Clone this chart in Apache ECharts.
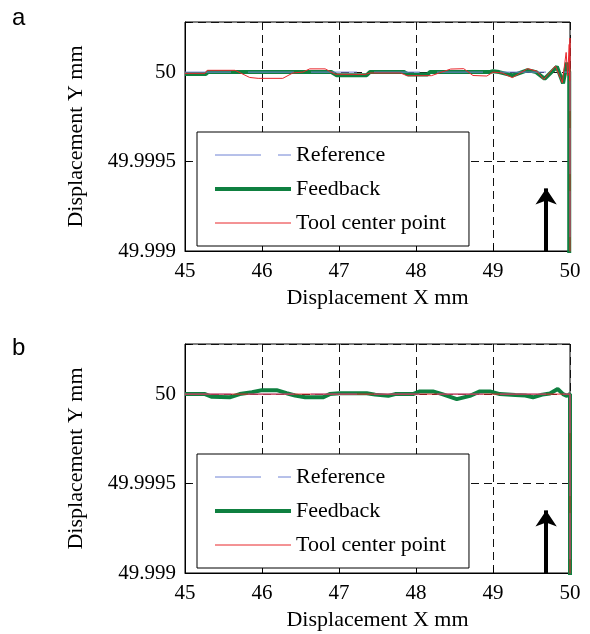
<!DOCTYPE html>
<html>
<head>
    <meta charset="utf-8">
    <title>Displacement</title>
    <script src="https://cdn.jsdelivr.net/npm/echarts@6/dist/echarts.min.js"></script>
    <style>
        html, body { margin: 0; padding: 0; background: #fff; }
        #chart { width: 590px; height: 634px; }
    </style>
</head>
<body>
<div id="chart"></div>
<script type="text/javascript">

    /* tick labels */
    var xTicks = [45, 46, 47, 48, 49, 50];
    var yTicks = ['49.999', '49.9995', '50'];
    var names = ['Reference', 'Feedback', 'Tool center point'];

    /* panel a  [X mm, Y mm] */
    var refA = [[45, 50], [50, 50], [50, 49.998]];
    var feedA = [
        [45.00, 49.999989], [45.27, 49.999989], [45.30, 50.0], [46.90, 50.0],
        [46.97, 49.999983], [47.36, 49.999983], [47.40, 50.0], [47.85, 50.0],
        [47.90, 49.999987], [48.15, 49.999987], [48.18, 50.0], [48.95, 50.0],
        [49.00, 50.000005], [49.08, 50.0], [49.26, 49.999981], [49.45, 50.000011],
        [49.56, 50.0], [49.67, 49.999963], [49.83, 50.00003], [49.91, 49.999937],
        [49.96, 50.000053], [49.99, 50.0], [49.99, 49.998]
    ];
    var tcpA = [
        [45.00, 49.999993], [45.26, 49.999993], [45.29, 50.00001], [45.65, 50.00001],
        [45.84, 49.99997], [45.95, 49.999965], [46.27, 49.999965], [46.40, 49.999995],
        [46.53, 50.0], [46.62, 50.000018], [46.82, 50.000018], [46.95, 49.999988],
        [47.34, 49.999987], [47.40, 49.999995], [47.80, 49.999995], [47.88, 49.99998],
        [48.20, 49.99998], [48.30, 49.999995], [48.45, 50.000017], [48.62, 50.000019],
        [48.74, 49.999981], [48.92, 49.999978], [49.00, 50.0], [49.12, 49.999995],
        [49.25, 49.999969], [49.45, 50.000019], [49.57, 50.000005], [49.66, 49.999959],
        [49.81, 50.000034], [49.90, 49.99994], [49.95, 50.00011], [49.97, 49.99998],
        [49.99, 50.000155], [49.995, 49.99995], [50.00, 50.00019], [50.00, 49.998]
    ];

    /* panel b */
    var refB = [[45, 50], [50, 50], [50, 49.998]];
    var feedB = [
        [45.00, 50.0], [45.26, 50.0], [45.35, 49.999985], [45.58, 49.999982],
        [45.71, 50.0], [45.87, 50.00001], [46.00, 50.000022], [46.19, 50.000022],
        [46.32, 50.000005], [46.43, 49.999992], [46.56, 49.999982], [46.79, 49.999982],
        [46.88, 50.0], [47.01, 50.000005], [47.36, 50.000005], [47.47, 49.999997],
        [47.64, 49.99999], [47.73, 50.0], [47.96, 50.0], [48.05, 50.000015],
        [48.22, 50.000015], [48.34, 50.0], [48.53, 49.999972], [48.70, 49.99999],
        [48.83, 50.000015], [48.96, 50.000015], [49.09, 50.0], [49.29, 49.999995],
        [49.42, 49.999992], [49.52, 49.999982], [49.64, 49.999997], [49.74, 50.000003],
        [49.84, 50.000028], [49.91, 50.0], [49.96, 49.99999], [50.00, 50.0], [50.00, 49.998]
    ];
    var tcpB = [[45, 50], [50, 50], [50, 49.998]];

    /* arrow: start / tip */
    var arrowPts = [[49.69, 49.999], [49.69, 49.99935]];

    var serif = "'Liberation Serif', 'Times New Roman', serif";
    var gridTops = [22, 344];

    var colors = {ref: '#6f82d4', feed: '#0f8040', tcp: '#e8262b'};

    function xAxisOf(i) {
        return {
            type: 'value', gridIndex: i, min: 45, max: 50, interval: 1,
            name: 'Displacement X mm', nameLocation: 'middle', nameGap: 36,
            nameTextStyle: {fontFamily: serif, fontSize: 22, color: '#000'},
            axisLine: {show: true, lineStyle: {color: '#000', width: 1}},
            axisTick: {show: true, inside: true, length: 6, lineStyle: {color: '#000'}},
            axisLabel: {fontFamily: serif, fontSize: 21, color: '#000', margin: 10},
            splitLine: {show: true, lineStyle: {color: '#111', width: 1, type: [8, 5]}}
        };
    }

    function yAxisOf(i) {
        return {
            type: 'value', gridIndex: i, min: 49.999, max: 50.00028, interval: 0.0005,
            name: 'Displacement Y mm', nameLocation: 'middle', nameGap: 98,
            nameTextStyle: {fontFamily: serif, fontSize: 22, color: '#000'},
            axisLine: {show: true, lineStyle: {color: '#000', width: 1}},
            axisTick: {show: true, inside: true, length: 6, lineStyle: {color: '#000'}},
            axisLabel: {
                fontFamily: serif, fontSize: 21, color: '#000', margin: 9,
                formatter: function (v) {
                    for (var k = 0; k < yTicks.length; k++) {
                        if (Math.abs(v - parseFloat(yTicks[k])) < 1e-7) return yTicks[k];
                    }
                    return '';
                }
            },
            splitLine: {show: true, lineStyle: {color: '#111', width: 1, type: [8, 5]}}
        };
    }

    function legendOf(i) {
        return {
            left: 197, top: gridTops[i] + 110, orient: 'vertical',
            data: [
                {name: names[0], lineStyle: {color: colors.ref, width: 1, type: [46, 17]}},
                {name: names[1], lineStyle: {color: colors.feed, width: 4}},
                {name: names[2], lineStyle: {color: colors.tcp, width: 1}}
            ],
            selectedMode: false,
            itemWidth: 76, itemHeight: 20, itemGap: 12,
            padding: [12, 23, 12, 16],
            backgroundColor: '#fff', borderColor: '#000', borderWidth: 1,
            itemStyle: {opacity: 0},
            textStyle: {fontFamily: serif, fontSize: 22, color: '#000'}
        };
    }

    function panelSeries(i, ref, feed, tcp) {
        return [
            {
                name: 'Feedback', type: 'line', xAxisIndex: i, yAxisIndex: i,
                data: feed, symbol: 'none',
                lineStyle: {color: colors.feed, width: 4}, itemStyle: {color: colors.feed}
            },
            {
                name: 'Reference', type: 'line', xAxisIndex: i, yAxisIndex: i,
                data: ref, symbol: 'none',
                lineStyle: {color: colors.ref, width: 1, type: [46, 17]}, itemStyle: {color: colors.ref}
            },
            {
                name: 'Tool center point', type: 'line', xAxisIndex: i, yAxisIndex: i,
                data: tcp, symbol: 'none',
                lineStyle: {color: colors.tcp, width: 1}, itemStyle: {color: colors.tcp},
                markLine: {
                    silent: true, symbol: ['none', 'arrow'], symbolSize: [16, 16],
                    label: {show: false},
                    lineStyle: {color: '#000', width: 4, type: 'solid'},
                    data: [[{coord: arrowPts[0]}, {coord: arrowPts[1]}]]
                }
            }
        ];
    }

    var chart = echarts.init(document.getElementById('chart'));
    chart.setOption({
        animation: false,
        backgroundColor: '#fff',
        grid: gridTops.map(function (t) {
            return {left: 185, top: t, width: 385, height: 229, show: true,
                    borderColor: '#000', borderWidth: 1, backgroundColor: 'transparent'};
        }),
        xAxis: [xAxisOf(0), xAxisOf(1)],
        yAxis: [yAxisOf(0), yAxisOf(1)],
        legend: [legendOf(0), legendOf(1)],
        graphic: [
            {type: 'text', left: 12, top: 6, style: {text: 'a', font: "24px 'Liberation Sans', Arial, sans-serif", fill: '#000'}},
            {type: 'text', left: 12, top: 336, style: {text: 'b', font: "24px 'Liberation Sans', Arial, sans-serif", fill: '#000'}}
        ],
        series: panelSeries(0, refA, feedA, tcpA).concat(panelSeries(1, refB, feedB, tcpB))
    });

</script>
</body>
</html>
